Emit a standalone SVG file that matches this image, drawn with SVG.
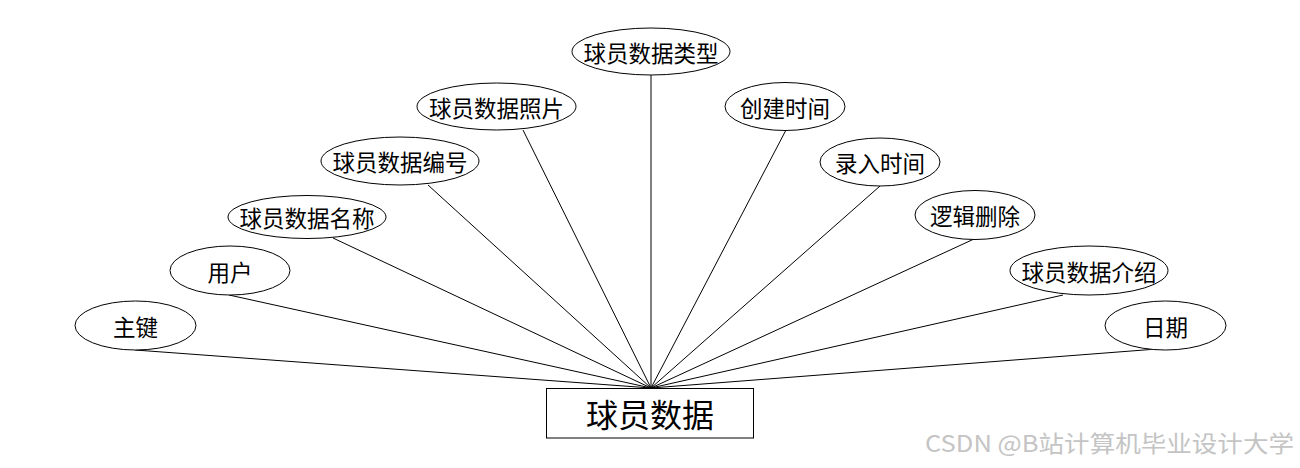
<svg xmlns="http://www.w3.org/2000/svg" width="1300" height="468" viewBox="0 0 1300 468">
<style>
.n ellipse{fill:#fff;stroke:#000;stroke-width:1}
.n text{font-family:"Noto Sans CJK SC","Microsoft YaHei",sans-serif;font-size:22.5px;fill:#000;text-anchor:middle;dominant-baseline:central}
.e rect{fill:#fff;stroke:#000;stroke-width:1}
.e text{font-family:"Noto Sans CJK SC",sans-serif;font-size:32px;fill:#000;text-anchor:middle;dominant-baseline:central}
.c line{stroke:#000;stroke-width:1}
.wm{font-family:"Noto Sans CJK SC",sans-serif;font-size:23px;fill:#c4c4c4}
</style>
<rect width="1300" height="468" fill="#fff"/>
<g class="c" id="connectors">
<line x1="135" y1="350" x2="651" y2="388"/>
<line x1="229" y1="295" x2="651" y2="388"/>
<line x1="333" y1="238" x2="651" y2="388"/>
<line x1="428" y1="185" x2="651" y2="388"/>
<line x1="523" y1="130" x2="651" y2="388"/>
<line x1="651" y1="75" x2="651" y2="388"/>
<line x1="786" y1="130" x2="651" y2="388"/>
<line x1="880" y1="186" x2="651" y2="388"/>
<line x1="974" y1="239" x2="651" y2="388"/>
<line x1="1063" y1="295" x2="651" y2="388"/>
<line x1="1157" y1="349" x2="651" y2="388"/>
</g>
<g class="n" id="n-zhujian"><ellipse cx="135.5" cy="325.5" rx="60.5" ry="24.5"/><text x="135.5" y="325.5">主键</text></g>
<g class="n" id="n-yonghu"><ellipse cx="230" cy="270.5" rx="60" ry="24.5"/><text x="230" y="270.5">用户</text></g>
<g class="n" id="n-mingcheng"><ellipse cx="307" cy="217" rx="79" ry="21.5"/><text x="307" y="217">球员数据名称</text></g>
<g class="n" id="n-bianhao"><ellipse cx="400" cy="161" rx="79" ry="24"/><text x="400" y="161">球员数据编号</text></g>
<g class="n" id="n-zhaopian"><ellipse cx="496.5" cy="106.5" rx="79.5" ry="23.5"/><text x="496.5" y="106.5">球员数据照片</text></g>
<g class="n" id="n-leixing"><ellipse cx="651" cy="51.5" rx="79" ry="23.5"/><text x="651" y="51.5">球员数据类型</text></g>
<g class="n" id="n-chuangjian"><ellipse cx="785" cy="106.5" rx="60" ry="24"/><text x="785" y="106.5">创建时间</text></g>
<g class="n" id="n-luru"><ellipse cx="880" cy="162" rx="60" ry="24"/><text x="880" y="162">录入时间</text></g>
<g class="n" id="n-luoji"><ellipse cx="975" cy="215" rx="60" ry="24.5"/><text x="975" y="215">逻辑删除</text></g>
<g class="n" id="n-jieshao"><ellipse cx="1089" cy="270.5" rx="79" ry="24.5"/><text x="1089" y="270.5">球员数据介绍</text></g>
<g class="n" id="n-riqi"><ellipse cx="1165.5" cy="325.5" rx="60.5" ry="24.5"/><text x="1165.5" y="325.5">日期</text></g>
<g class="e" id="entity"><rect x="546.5" y="388.5" width="207" height="49.5"/><text x="650" y="413">球员数据</text></g>
<text class="wm" x="925" y="452" textLength="369" lengthAdjust="spacingAndGlyphs">CSDN @B站计算机毕业设计大学</text>
</svg>
